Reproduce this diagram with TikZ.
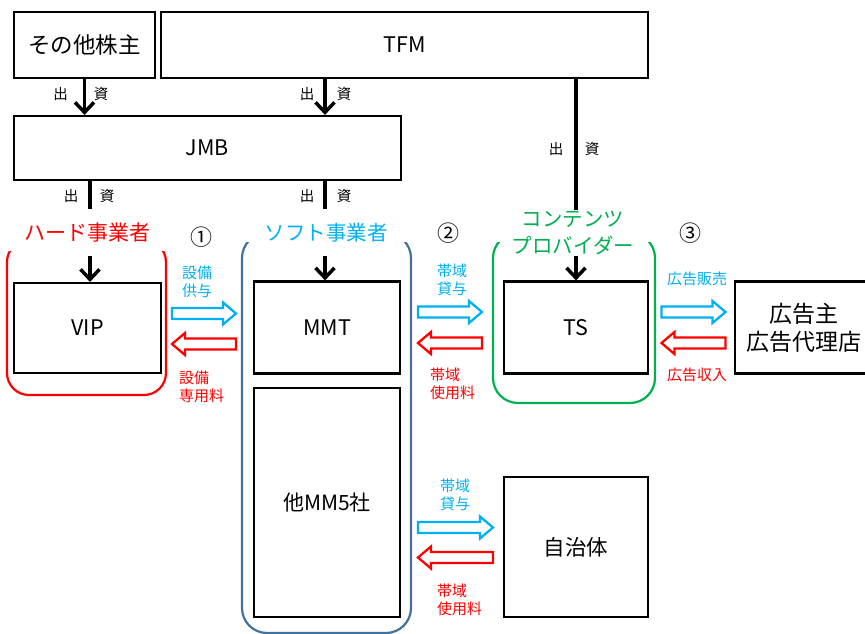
\documentclass[tikz,border=0pt]{standalone}
\usepackage{fontspec}
\setmainfont{Noto Sans CJK JP}
\usetikzlibrary{arrows.meta,calc}
\definecolor{cblue}{HTML}{00B0F0}
\definecolor{cred}{HTML}{FF0000}
\definecolor{cgreen}{HTML}{00B050}
\definecolor{cframe}{HTML}{41719C}
\tikzset{
  box/.style={draw=black,line width=2.2pt,inner sep=0pt,align=center,font=\fontsize{21.5}{24}\selectfont},
  arr/.style={line width=3.5pt,-{Straight Barb[length=10pt,width=19pt]}},
  ln/.style={line width=3.5pt},
  sm/.style={inner sep=0pt,font=\fontsize{14.5}{16}\selectfont},
  lab/.style={inner sep=0pt,font=\fontsize{15}{18}\selectfont},
  grp/.style={inner sep=1pt,font=\fontsize{21}{27}\selectfont},
  num/.style={inner sep=0pt,font=\fontsize{22}{24}\selectfont},
  frame/.style={line width=2.2pt,rounded corners=#1},
  pics/barrow/.style n args={2}{code={
    \draw[line width=2.3pt,draw=#2,fill=white]
      (-#1,-5.5) -- (#1-13,-5.5) -- (#1-13,-11) -- (#1,0) -- (#1-13,11) -- (#1-13,5.5) -- (-#1,5.5) -- cycle;}}
}
\begin{document}
\begin{tikzpicture}[x=1pt,y=-1pt]
\useasboundingbox (0,0) rectangle (865,634);
% rounded group frames (top edge cut away)
\begin{scope}
  \clip (0,251) rectangle (865,640);
  \draw[frame=22pt,draw=cred] (7,240) rectangle (166,395);
\end{scope}
\begin{scope}
  \clip (0,242) rectangle (865,640);
  \draw[frame=25pt,draw=cframe] (242,233) rectangle (411,633);
  \draw[frame=25pt,draw=cgreen] (493,233) rectangle (655,403);
\end{scope}
% boxes
\node[box,minimum width=141pt,minimum height=66pt,font=\fontsize{22.5}{26}\selectfont] (oth) at (84.5,45) {その他株主};
\node[box,minimum width=487pt,minimum height=66pt] (tfm) at (404.5,45) {TFM};
\node[box,minimum width=387pt,minimum height=64pt] (jmb) at (207.5,148) {JMB};
\node[box,minimum width=147pt,minimum height=90pt] (vip) at (87.5,328) {VIP};
\node[box,minimum width=146pt,minimum height=92pt] (mmt) at (327,327.5) {MMT};
\node[box,minimum width=146pt,minimum height=229pt,font=\fontsize{21}{24}\selectfont] (mm5) at (327,502.5) {他MM5社};
\node[box,minimum width=144pt,minimum height=92pt] (ts) at (576,327.5) {TS};
\node[box,minimum width=138pt,minimum height=92pt,font=\fontsize{23}{28}\selectfont] (ad) at (804,327.5) {広告主\\広告代理店};
\node[box,minimum width=144pt,minimum height=140pt,font=\fontsize{21.5}{24}\selectfont] (jic) at (576,547) {自治体};
% investment arrows
\coordinate (c2) at (325,0);
\coordinate (h1) at (90,209);
\coordinate (h2) at (90,256);
\coordinate (s1) at (325,209);
\coordinate (s2) at (325,256);
\draw[arr] (oth.south) -- (oth.south |- jmb.north);
\draw[arr] (c2 |- tfm.south) -- (c2 |- jmb.north);
\draw[ln] (h1 |- jmb.south) -- (h1);
\draw[arr] (h2) -- (h2 |- vip.north);
\draw[ln] (s1 |- jmb.south) -- (s1);
\draw[arr] (s2) -- (s2 |- mmt.north);
\draw[arr] (ts.north |- tfm.south) -- (ts.north);
% 出資 labels
\node[sm] (a1) at (60.5,94) {出};
\node[sm] (a2) at (101,94) {資};
\node[sm] (a3) at (307,94) {出};
\node[sm] (a4) at (344,94) {資};
\node[sm] (a5) at (71,196) {出};
\node[sm] (a6) at (107,196) {資};
\node[sm] (a7) at (307,196) {出};
\node[sm] (a8) at (344,196) {資};
\node[sm] (a9) at (556,149) {出};
\node[sm] (a10) at (592,149) {資};
% group labels
\node[grp,text=cred] (hard) at (87,233) {ハード事業者};
\node[grp,text=cblue,font=\fontsize{20.5}{24}\selectfont] (soft) at (326,233) {ソフト事業者};
\node[grp,text=cgreen,fill=white,align=center,font=\fontsize{20.5}{27}\selectfont] (cp) at (573,233) {コンテンツ\\プロバイダー};
\node[num] (n1) at (201,237) {①};
\node[num] (n2) at (448,233) {②};
\node[num] (n3) at (690,233) {③};
% block arrows
\pic at (204,313.5) {barrow={32}{cblue}};
\pic[rotate=180] at (204,344) {barrow={32}{cred}};
\pic at (450,312) {barrow={32}{cblue}};
\pic[rotate=180] at (450,343) {barrow={32}{cred}};
\pic at (693.5,312) {barrow={32}{cblue}};
\pic[rotate=180] at (693.5,343) {barrow={32}{cred}};
\pic at (455.5,527.5) {barrow={37.5}{cblue}};
\pic[rotate=180] at (455.5,557.5) {barrow={37.5}{cred}};
% flow labels
\node[lab,text=cblue,align=center] (t1) at (197,281.5) {設備\\供与};
\node[lab,text=cred,align=left,anchor=west] (t2) at (179,386.5) {設備\\専用料};
\node[lab,text=cblue,align=center] (t3) at (452,280) {帯域\\貸与};
\node[lab,text=cred,align=left,anchor=west] (t4) at (430,383.5) {帯域\\使用料};
\node[lab,text=cblue] (t5) at (697,279) {広告販売};
\node[lab,text=cred] (t6) at (697,375) {広告収入};
\node[lab,text=cblue,align=center] (t7) at (455,495) {帯域\\貸与};
\node[lab,text=cred,align=left,anchor=west] (t8) at (437,600) {帯域\\使用料};
\end{tikzpicture}
\end{document}
